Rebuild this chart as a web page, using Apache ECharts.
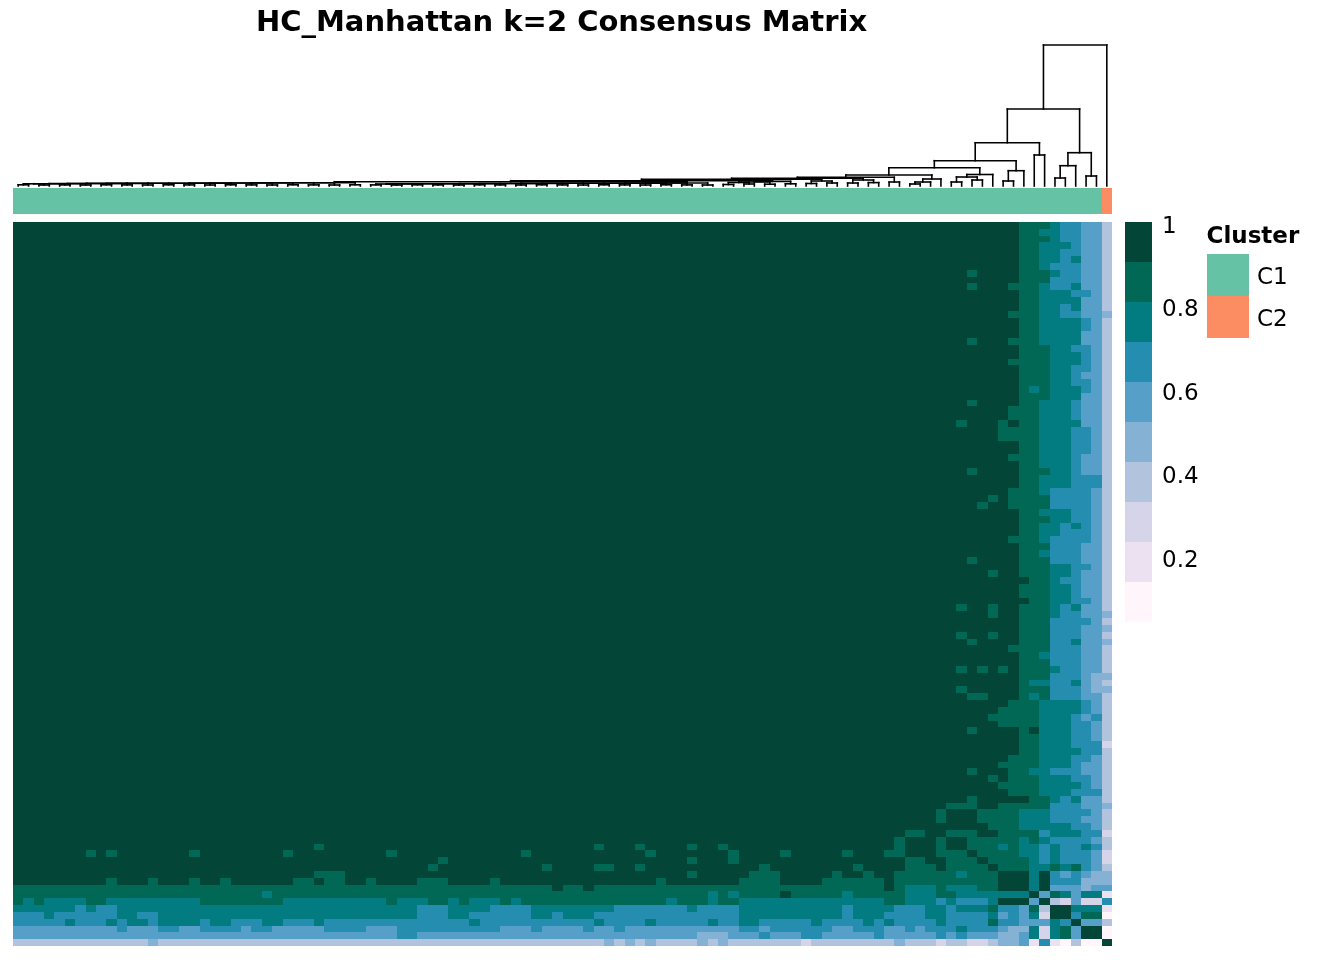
<!DOCTYPE html>
<html>
<head>
<meta charset="utf-8">
<script src="https://cdn.jsdelivr.net/npm/echarts@6/dist/echarts.min.js"></script>
<style>
html,body{margin:0;padding:0;background:#ffffff;}
#chart{width:1344px;height:960px;}
</style>
</head>
<body>
<div id="chart"></div>
<script>
// ---------------- DATA ----------------
const titleText = 'HC_Manhattan k=2 Consensus Matrix';

// colour bands of the consensus legend, top (1) to bottom (0)
const levelColors = ['#034638','#026856','#027c80','#258db0','#559fc8','#85b1d4','#b2c3de','#d6d4e8','#ece1f0','#fff5fa'];
const levelBreaks = [1.0,0.9,0.8,0.7,0.6,0.5,0.4,0.3,0.2,0.1,0.0];
const levelValues = [0.95,0.85,0.75,0.65,0.55,0.45,0.35,0.25,0.15,0.05];

const legendTickValues = [1,0.8,0.6,0.4,0.2];
const legendTickLabels = ['1','0.8','0.6','0.4','0.2'];

const clusterTitle = 'Cluster';
const clusterNames = ['C1','C2'];
const clusterColors = ['#66c2a5','#fc8d62'];
// cluster of each sample (column order), 0 = C1, 1 = C2
const sampleCluster = "0000000000 0000000000 0000000000 0000000000 0000000000 0000000000 0000000000 0000000000 0000000000 0000000000 000001";

// consensus matrix, one string per row; each digit is the colour band index (0 = consensus 1)
const consensusRows = [
"0000000000 0000000000 0000000000 0000000000 0000000000 0000000000 0000000000 0000000000 0000000000 0000000111 233446",
"0000000000 0000000000 0000000000 0000000000 0000000000 0000000000 0000000000 0000000000 0000000000 0000000112 233446",
"0000000000 0000000000 0000000000 0000000000 0000000000 0000000000 0000000000 0000000000 0000000000 0000000111 233446",
"0000000000 0000000000 0000000000 0000000000 0000000000 0000000000 0000000000 0000000000 0000000000 0000000112 223446",
"0000000000 0000000000 0000000000 0000000000 0000000000 0000000000 0000000000 0000000000 0000000000 0000000112 233446",
"0000000000 0000000000 0000000000 0000000000 0000000000 0000000000 0000000000 0000000000 0000000000 0000000112 232446",
"0000000000 0000000000 0000000000 0000000000 0000000000 0000000000 0000000000 0000000000 0000000000 0000000112 333446",
"0000000000 0000000000 0000000000 0000000000 0000000000 0000000000 0000000000 0000000000 0000000000 0010000111 233446",
"0000000000 0000000000 0000000000 0000000000 0000000000 0000000000 0000000000 0000000000 0000000000 0000000111 333446",
"0000000000 0000000000 0000000000 0000000000 0000000000 0000000000 0000000000 0000000000 0000000000 0010001112 332446",
"0000000000 0000000000 0000000000 0000000000 0000000000 0000000000 0000000000 0000000000 0000000000 0000000112 223346",
"0000000000 0000000000 0000000000 0000000000 0000000000 0000000000 0000000000 0000000000 0000000000 0000000112 222446",
"0000000000 0000000000 0000000000 0000000000 0000000000 0000000000 0000000000 0000000000 0000000000 0000000112 232446",
"0000000000 0000000000 0000000000 0000000000 0000000000 0000000000 0000000000 0000000000 0000000000 0000001112 233445",
"0000000000 0000000000 0000000000 0000000000 0000000000 0000000000 0000000000 0000000000 0000000000 0000000112 222346",
"0000000000 0000000000 0000000000 0000000000 0000000000 0000000000 0000000000 0000000000 0000000000 0000000112 222346",
"0000000000 0000000000 0000000000 0000000000 0000000000 0000000000 0000000000 0000000000 0000000000 0000000112 222446",
"0000000000 0000000000 0000000000 0000000000 0000000000 0000000000 0000000000 0000000000 0000000000 0010001112 222446",
"0000000000 0000000000 0000000000 0000000000 0000000000 0000000000 0000000000 0000000000 0000000000 0000000111 223346",
"0000000000 0000000000 0000000000 0000000000 0000000000 0000000000 0000000000 0000000000 0000000000 0000000111 222346",
"0000000000 0000000000 0000000000 0000000000 0000000000 0000000000 0000000000 0000000000 0000000000 0000001111 222346",
"0000000000 0000000000 0000000000 0000000000 0000000000 0000000000 0000000000 0000000000 0000000000 0000000111 223346",
"0000000000 0000000000 0000000000 0000000000 0000000000 0000000000 0000000000 0000000000 0000000000 0000000111 223446",
"0000000000 0000000000 0000000000 0000000000 0000000000 0000000000 0000000000 0000000000 0000000000 0000000111 223346",
"0000000000 0000000000 0000000000 0000000000 0000000000 0000000000 0000000000 0000000000 0000000000 0000000121 222346",
"0000000000 0000000000 0000000000 0000000000 0000000000 0000000000 0000000000 0000000000 0000000000 0000000111 222446",
"0000000000 0000000000 0000000000 0000000000 0000000000 0000000000 0000000000 0000000000 0000000000 0010000112 223446",
"0000000000 0000000000 0000000000 0000000000 0000000000 0000000000 0000000000 0000000000 0000000000 0000001112 223446",
"0000000000 0000000000 0000000000 0000000000 0000000000 0000000000 0000000000 0000000000 0000000000 0000001112 223446",
"0000000000 0000000000 0000000000 0000000000 0000000000 0000000000 0000000000 0000000000 0000000000 0100010112 222446",
"0000000000 0000000000 0000000000 0000000000 0000000000 0000000000 0000000000 0000000000 0000000000 0000011112 223346",
"0000000000 0000000000 0000000000 0000000000 0000000000 0000000000 0000000000 0000000000 0000000000 0000011112 223346",
"0000000000 0000000000 0000000000 0000000000 0000000000 0000000000 0000000000 0000000000 0000000000 0000000112 223346",
"0000000000 0000000000 0000000000 0000000000 0000000000 0000000000 0000000000 0000000000 0000000000 0000000112 223346",
"0000000000 0000000000 0000000000 0000000000 0000000000 0000000000 0000000000 0000000000 0000000000 0000001112 223446",
"0000000000 0000000000 0000000000 0000000000 0000000000 0000000000 0000000000 0000000000 0000000000 0000000112 223446",
"0000000000 0000000000 0000000000 0000000000 0000000000 0000000000 0000000000 0000000000 0000000000 0010000111 223446",
"0000000000 0000000000 0000000000 0000000000 0000000000 0000000000 0000000000 0000000000 0000000000 0000000112 223336",
"0000000000 0000000000 0000000000 0000000000 0000000000 0000000000 0000000000 0000000000 0000000000 0000000112 223336",
"0000000000 0000000000 0000000000 0000000000 0000000000 0000000000 0000000000 0000000000 0000000000 0000001112 333346",
"0000000000 0000000000 0000000000 0000000000 0000000000 0000000000 0000000000 0000000000 0000000000 0000101111 333346",
"0000000000 0000000000 0000000000 0000000000 0000000000 0000000000 0000000000 0000000000 0000000000 0001001111 333346",
"0000000000 0000000000 0000000000 0000000000 0000000000 0000000000 0000000000 0000000000 0000000000 0000000112 223346",
"0000000000 0000000000 0000000000 0000000000 0000000000 0000000000 0000000000 0000000000 0000000000 0000000111 223346",
"0000000000 0000000000 0000000000 0000000000 0000000000 0000000000 0000000000 0000000000 0000000000 0000000112 232346",
"0000000000 0000000000 0000000000 0000000000 0000000000 0000000000 0000000000 0000000000 0000000000 0000000112 233346",
"0000000000 0000000000 0000000000 0000000000 0000000000 0000000000 0000000000 0000000000 0000000000 0000001112 333346",
"0000000000 0000000000 0000000000 0000000000 0000000000 0000000000 0000000000 0000000000 0000000000 0000000111 333446",
"0000000000 0000000000 0000000000 0000000000 0000000000 0000000000 0000000000 0000000000 0000000000 0000000112 333446",
"0000000000 0000000000 0000000000 0000000000 0000000000 0000000000 0000000000 0000000000 0000000000 0010000111 333446",
"0000000000 0000000000 0000000000 0000000000 0000000000 0000000000 0000000000 0000000000 0000000000 0000000111 223346",
"0000000000 0000000000 0000000000 0000000000 0000000000 0000000000 0000000000 0000000000 0000000000 0000100111 223446",
"0000000000 0000000000 0000000000 0000000000 0000000000 0000000000 0000000000 0000000000 0000000000 0000000011 233446",
"0000000000 0000000000 0000000000 0000000000 0000000000 0000000000 0000000000 0000000000 0000000000 0000000111 223446",
"0000000000 0000000000 0000000000 0000000000 0000000000 0000000000 0000000000 0000000000 0000000000 0000000111 223446",
"0000000000 0000000000 0000000000 0000000000 0000000000 0000000000 0000000000 0000000000 0000000000 0000000011 223346",
"0000000000 0000000000 0000000000 0000000000 0000000000 0000000000 0000000000 0000000000 0000000000 0100100111 232446",
"0000000000 0000000000 0000000000 0000000000 0000000000 0000000000 0000000000 0000000000 0000000000 0000100111 233445",
"0000000000 0000000000 0000000000 0000000000 0000000000 0000000000 0000000000 0000000000 0000000000 0000000111 333346",
"0000000000 0000000000 0000000000 0000000000 0000000000 0000000000 0000000000 0000000000 0000000000 0000000111 333445",
"0000000000 0000000000 0000000000 0000000000 0000000000 0000000000 0000000000 0000000000 0000000000 0100100111 333446",
"0000000000 0000000000 0000000000 0000000000 0000000000 0000000000 0000000000 0000000000 0000000000 0010000111 332445",
"0000000000 0000000000 0000000000 0000000000 0000000000 0000000000 0000000000 0000000000 0000000000 0000001111 333446",
"0000000000 0000000000 0000000000 0000000000 0000000000 0000000000 0000000000 0000000000 0000000000 0000000112 333446",
"0000000000 0000000000 0000000000 0000000000 0000000000 0000000000 0000000000 0000000000 0000000000 0000000111 333446",
"0000000000 0000000000 0000000000 0000000000 0000000000 0000000000 0000000000 0000000000 0000000000 0101010111 233446",
"0000000000 0000000000 0000000000 0000000000 0000000000 0000000000 0000000000 0000000000 0000000000 0000000111 333455",
"0000000000 0000000000 0000000000 0000000000 0000000000 0000000000 0000000000 0000000000 0000000000 0000000122 332456",
"0000000000 0000000000 0000000000 0000000000 0000000000 0000000000 0000000000 0000000000 0000000000 0100000111 333455",
"0000000000 0000000000 0000000000 0000000000 0000000000 0000000000 0000000000 0000000000 0000000000 0011000121 333446",
"0000000000 0000000000 0000000000 0000000000 0000000000 0000000000 0000000000 0000000000 0000000000 0000001112 222346",
"0000000000 0000000000 0000000000 0000000000 0000000000 0000000000 0000000000 0000000000 0000000000 0000011112 222346",
"0000000000 0000000000 0000000000 0000000000 0000000000 0000000000 0000000000 0000000000 0000000000 0000111112 223436",
"0000000000 0000000000 0000000000 0000000000 0000000000 0000000000 0000000000 0000000000 0000000000 0000011112 223346",
"0000000000 0000000000 0000000000 0000000000 0000000000 0000000000 0000000000 0000000000 0000000000 0010000102 223346",
"0000000000 0000000000 0000000000 0000000000 0000000000 0000000000 0000000000 0000000000 0000000000 0000000112 223346",
"0000000000 0000000000 0000000000 0000000000 0000000000 0000000000 0000000000 0000000000 0000000000 0000000112 223337",
"0000000000 0000000000 0000000000 0000000000 0000000000 0000000000 0000000000 0000000000 0000000000 0000000112 222336",
"0000000000 0000000000 0000000000 0000000000 0000000000 0000000000 0000000000 0000000000 0000000000 0000001112 223346",
"0000000000 0000000000 0000000000 0000000000 0000000000 0000000000 0000000000 0000000000 0000000000 0000011112 223446",
"0000000000 0000000000 0000000000 0000000000 0000000000 0000000000 0000000000 0000000000 0000000000 0010001122 333446",
"0000000000 0000000000 0000000000 0000000000 0000000000 0000000000 0000000000 0000000000 0000000000 0000101112 223346",
"0000000000 0000000000 0000000000 0000000000 0000000000 0000000000 0000000000 0000000000 0000000000 0000011112 222346",
"0000000000 0000000000 0000000000 0000000000 0000000000 0000000000 0000000000 0000000000 0000000000 0000001112 223336",
"0000000000 0000000000 0000000000 0000000000 0000000000 0000000000 0000000000 0000000000 0000000000 0010000011 232446",
"0000000000 0000000000 0000000000 0000000000 0000000000 0000000000 0000000000 0000000000 0000000000 1110011111 333445",
"0000000000 0000000000 0000000000 0000000000 0000000000 0000000000 0000000000 0000000000 0000000001 0001111222 333346",
"0000000000 0000000000 0000000000 0000000000 0000000000 0000000000 0000000000 0000000000 0000000001 0001111222 333446",
"0000000000 0000000000 0000000000 0000000000 0000000000 0000000000 0000000000 0000000000 0000000000 0000111222 223346",
"0000000000 0000000000 0000000000 0000000000 0000000000 0000000000 0000000000 0000000000 0000001100 1110011113 222337",
"0000000000 0000000000 0000000000 0000000000 0000000000 0000000000 0000000000 0000000000 0000010001 0011111212 333346",
"0000000000 0000000000 0000000001 0000000000 0000000000 0000001000 1000010010 0000000000 0000010001 0011121223 233236",
"0000000101 0000000100 0000001000 0000001000 0000000001 0000000000 0100000001 0000100000 1000110001 1101111223 233347",
"0000000000 0000000000 0000000000 0000000000 0100000000 0000000000 0000010001 0000000000 0000001100 1110111123 233347",
"0000000000 0000000000 0000000000 0000000000 1000000000 0100001100 1000000000 0010000000 0100001110 1111011122 121346",
"0000000000 0000000000 0000000001 1100000000 0000000000 0000000000 0000010000 0111000001 0010011111 1211100020 343455",
"0000000001 0001000100 1000000110 1100100001 1100001000 0000000000 0010000000 1111000011 1111011111 1111100020 333555",
"1111111111 1111111111 1111111111 1111111111 1111111111 1101101111 1111111111 1111111111 1111012221 2221100020 444544",
"1111111111 1111111111 1111211111 1111111111 1111111111 1111111111 1111111212 1111011111 2111112221 1222222204 124228",
"1212222112 2222222211 1111112222 2222221222 1121222121 1111111111 1112111211 2222222222 2222112223 2333200040 674773",
"2222223233 2222222222 2222222222 2222222223 3322223333 2222222233 3333323333 2222222222 3222233322 3222133416 002228",
"3332333333 2233222222 2222222222 2222222223 3322333333 2232223333 3333333333 2222222222 3222333322 3333243427 003119",
"3333323332 3223222232 2333223332 3333333333 3333233333 3333332333 3233333233 2233333233 3323233332 3333133444 230446",
"4444444444 3444334433 3343344444 3333444333 3333333444 3444434434 4444444444 3343333334 4333443433 3233345527 214009",
"4444444444 4444444444 4444444444 4444444334 4444444444 4444444444 4444445554 4434443344 4443444443 4344455427 214009",
"6666666666 6665666666 6666666666 6666666666 6666666666 6666666565 6566665656 6666667666 6666656667 6677655483 896990"
];

// column dendrogram: [left, right, height] merges, or {chain, heights} for successive merges
const dendroA = {chain: [[0,1,1.2],[2,3,1.0],[4,5,1.1],[6,7,1.0],[8,9,1.2],[10,11,1.1],[12,13,1.0],[14,15,1.2],[16,17,1.1],[18,19,1.0],[20,21,1.2],[22,23,1.1],[24,25,1.0],[26,27,1.2],[28,29,1.1],[30,31,1.0],[32,33,1.2]],
  heights: [2.2,2.3,2.4,2.5,2.6,2.6,2.7,2.8,2.8,2.9,3.0,3.0,3.1,3.2,3.2,3.3]};
const dendroB = {chain: [[34,35,1.1],[36,37,1.0],[38,39,1.2],[40,41,1.1],[42,43,1.0],[44,45,1.2],[46,47,1.1],[48,49,1.0],[50,51,1.2],[52,53,1.1],[54,55,1.0],[56,57,1.2],[58,59,1.1],[60,61,1.0],[62,63,1.2],[64,65,1.1],[66,67,1.0]],
  heights: [2.0,2.1,2.2,2.3,2.3,2.4,2.5,2.5,2.6,2.7,2.7,2.8,2.8,2.9,3.0,3.0]};
const dendroC = {chain: [[68,69,1.5],[70,71,2.0],[72,73,1.8],[74,75,2.2]], heights: [3.5,4.0,4.6]};
const dendroD = [[76,77,2.5],[78,79,3.0],5.0];
const dendroE = [[80,81,3.0],[82,83,3.4],6.0];
const dendroX = {chain: [[dendroA, dendroB, 4.3], dendroC, dendroD, dendroE, [84,85,4.0]], heights: [5.3,6.7,7.7,8.7]};
const dendroH2 = {chain: [[86,87,2.0], 88, 89], heights: [4.0,7.0]};
const dendroI = [[[90,91,4.0],[92,93,6.0],9.0], 94, 11.5];
const dendroF = [[dendroX, dendroH2, 11.0], dendroI, 18.3];
const dendroG = [[95,96,5.0], 97, 15.3];
const dendroLeft = [[dendroF, dendroG, 25.3], [98,99,31.0], 43.3];
const dendroRight = [[[100,101,8.0],102,20.3],[103,104,10.0],33.3];
const dendroRoot = [[dendroLeft, dendroRight, 77.0], 105, 141.0];

// ---------------- BUILD ----------------
const rows = consensusRows.map(r => r.replace(/ /g, ''));
const N = rows.length;
rows.forEach((r, i) => { if (r.length !== N) console.error('row ' + i + ' has length ' + r.length); });
const cats = rows.map((_, i) => String(i));

const heatData = [];
rows.forEach((r, i) => {
  for (let j = 0; j < r.length; j++) heatData.push([j, i, levelValues[Number(r[j])]]);
});

const clusterStr = sampleCluster.replace(/ /g, '');
const annoData = [];
for (let j = 0; j < clusterStr.length; j++) annoData.push([j, 0, Number(clusterStr[j])]);

const segs = [];
function joinNodes(a, b, h) {
  segs.push([a.x, a.h, a.x, h], [a.x, h, b.x, h], [b.x, b.h, b.x, h]);
  return {x: (a.x + b.x) / 2, h: h};
}
function layoutTree(node) {
  if (typeof node === 'number') return {x: node + 0.5, h: 0};
  if (Array.isArray(node)) return joinNodes(layoutTree(node[0]), layoutTree(node[1]), node[2]);
  let cur = layoutTree(node.chain[0]);
  for (let k = 1; k < node.chain.length; k++) cur = joinNodes(cur, layoutTree(node.chain[k]), node.heights[k - 1]);
  return cur;
}
const rootInfo = layoutTree(dendroRoot);

const FONT = '"DejaVu Sans", "Liberation Sans", Arial, sans-serif';
const heatLeft = 13, heatWidth = 1099;

const pieces = levelColors.map((c, k) => k === levelColors.length - 1
  ? {gte: levelBreaks[k + 1], lte: levelBreaks[k], color: c}
  : {gt: levelBreaks[k + 1], lte: levelBreaks[k], color: c});

const legendX = 1162;
const tickY = v => 227 + (1 - v) * 417;

const graphics = [
  {type: 'text', x: 561.5, y: 23, style: {text: titleText, fontSize: 29, fontWeight: 'bold', fontFamily: FONT, fill: '#000', align: 'center', verticalAlign: 'middle', textAlign: 'center', textVerticalAlign: 'middle'}},
  {type: 'text', x: 1206.5, y: 237, style: {text: clusterTitle, fontSize: 23, fontWeight: 'bold', fontFamily: FONT, fill: '#000', align: 'left', verticalAlign: 'middle', textAlign: 'left', textVerticalAlign: 'middle'}}
];
legendTickValues.forEach((v, k) => {
  graphics.push({type: 'text', x: legendX, y: tickY(v), style: {text: legendTickLabels[k], fontSize: 23, fontFamily: FONT, fill: '#000', align: 'left', verticalAlign: 'middle', textAlign: 'left', textVerticalAlign: 'middle'}});
});
clusterNames.forEach((name, k) => {
  graphics.push({type: 'rect', shape: {x: 1207, y: 254 + k * 42, width: 42, height: 42}, style: {fill: clusterColors[k]}});
  graphics.push({type: 'text', x: 1257, y: 278 + k * 42, style: {text: name, fontSize: 23, fontFamily: FONT, fill: '#000', align: 'left', verticalAlign: 'middle', textAlign: 'left', textVerticalAlign: 'middle'}});
});

// cells drawn with pixel-snapped edges so neighbouring cells meet without seams
function cellRender(params, api) {
  const c = api.coord([api.value(0), api.value(1)]);
  const s = api.size([1, 1]);
  const x0 = Math.round(c[0] - s[0] / 2), x1 = Math.round(c[0] + s[0] / 2);
  const y0 = Math.round(c[1] - s[1] / 2), y1 = Math.round(c[1] + s[1] / 2);
  return {type: 'rect', shape: {x: x0, y: y0, width: x1 - x0, height: y1 - y0},
          style: {fill: api.visual('color')}};
}

const chart = echarts.init(document.getElementById('chart'), null, {renderer: 'canvas'});
chart.setOption({
  animation: false,
  backgroundColor: '#ffffff',
  tooltip: {show: false},
  grid: [
    {left: heatLeft, top: 222, width: heatWidth, height: 724, containLabel: false, outerBoundsMode: 'none'},
    {left: heatLeft, top: 188, width: heatWidth, height: 26, containLabel: false, outerBoundsMode: 'none'},
    {left: heatLeft, top: 45, width: heatWidth, height: 141, containLabel: false, outerBoundsMode: 'none'}
  ],
  xAxis: [
    {type: 'category', gridIndex: 0, data: cats, show: false},
    {type: 'category', gridIndex: 1, data: cats, show: false},
    {type: 'value', gridIndex: 2, min: 0, max: N, show: false}
  ],
  yAxis: [
    {type: 'category', gridIndex: 0, data: cats, inverse: true, show: false},
    {type: 'category', gridIndex: 1, data: [clusterTitle], show: false},
    {type: 'value', gridIndex: 2, min: 0, max: rootInfo.h, show: false}
  ],
  visualMap: [
    {type: 'piecewise', seriesIndex: 0, dimension: 2, orient: 'vertical', left: 1125, top: 222, padding: 0,
     itemWidth: 27, itemHeight: 40, itemGap: 0, itemSymbol: 'rect', showLabel: false, selectedMode: false, hoverLink: false,
     pieces: pieces},
    {type: 'piecewise', seriesIndex: 1, dimension: 2, show: false,
     pieces: clusterColors.map((c, k) => ({value: k, color: c}))}
  ],
  series: [
    {type: 'custom', xAxisIndex: 0, yAxisIndex: 0, data: heatData, progressive: 0, silent: true,
     encode: {x: 0, y: 1}, renderItem: cellRender},
    {type: 'custom', xAxisIndex: 1, yAxisIndex: 1, data: annoData, progressive: 0, silent: true,
     encode: {x: 0, y: 1}, renderItem: cellRender},
    {type: 'custom', xAxisIndex: 2, yAxisIndex: 2, data: segs, silent: true, clip: false,
     encode: {x: [0, 2], y: [1, 3]},
     renderItem: function (params, api) {
       const p1 = api.coord([api.value(0), api.value(1)]);
       const p2 = api.coord([api.value(2), api.value(3)]);
       return {type: 'line', shape: {x1: p1[0], y1: p1[1], x2: p2[0], y2: p2[1]},
               style: {stroke: '#000000', lineWidth: 1.6, lineCap: 'square'}};
     }}
  ],
  graphic: graphics
});
</script>
</body>
</html>
